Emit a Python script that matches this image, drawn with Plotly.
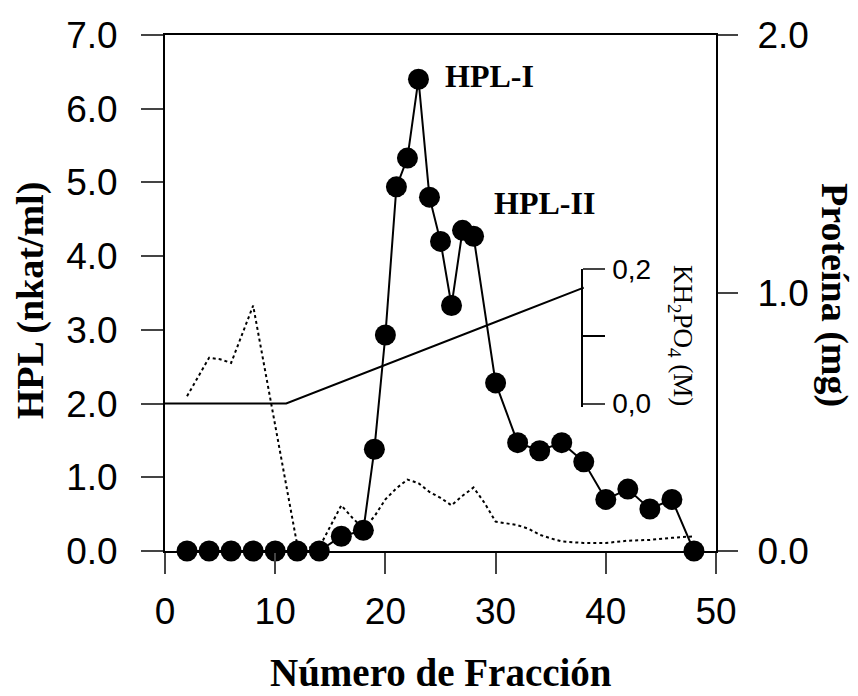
import plotly.graph_objects as go

# HPL activity (nkat/ml) vs fraction number
hpl_x = [2, 4, 6, 8, 10, 12, 14, 16, 18, 19, 20, 21, 22, 23, 24, 25, 26, 27, 28,
         30, 32, 34, 36, 38, 40, 42, 44, 46, 48]
hpl_y = [0, 0, 0, 0, 0, 0, 0, 0.20, 0.28, 1.38, 2.93, 4.94, 5.33, 6.40, 4.80, 4.20,
         3.33, 4.35, 4.27, 2.28, 1.47, 1.36, 1.47, 1.21, 0.70, 0.84, 0.57, 0.70, 0.0]

# Protein (mg), dotted trace
prot_x = [2, 4, 5, 6, 8, 10, 12, 13, 14, 16, 17, 18, 19, 20, 21, 22, 23, 24, 25,
          26, 27, 28, 29, 30, 31, 32, 33, 34, 35, 36, 38, 40, 42, 44, 46, 48]
prot_y = [0.600, 0.749, 0.743, 0.729, 0.951, 0.491, 0.023, 0.014, 0.014, 0.177,
          0.129, 0.086, 0.134, 0.200, 0.243, 0.277, 0.263, 0.229, 0.206, 0.177,
          0.214, 0.246, 0.186, 0.114, 0.106, 0.100, 0.086, 0.063, 0.049, 0.037,
          0.031, 0.031, 0.040, 0.043, 0.051, 0.057]

# KH2PO4 gradient (M)
grad_x = [0, 11, 38]
grad_y = [0.0, 0.0, 0.172]

x_ticks = [0, 10, 20, 30, 40, 50]
hpl_ticks = [0, 1, 2, 3, 4, 5, 6, 7]
prot_ticks = [0, 1, 2]
kh_ticks = [0, 0.2]
kh_ticktext = ["0,0", "0,2"]

SANS = "Liberation Sans, Arial, sans-serif"
SERIF = "Liberation Serif, Times New Roman, serif"

fig = go.Figure()

fig.add_trace(go.Scatter(
    x=prot_x, y=prot_y, yaxis="y2", mode="lines",
    line=dict(color="black", width=2, dash="dot"), showlegend=False))

fig.add_trace(go.Scatter(
    x=grad_x, y=grad_y, yaxis="y3", mode="lines",
    line=dict(color="black", width=2), showlegend=False))

fig.add_trace(go.Scatter(
    x=hpl_x, y=hpl_y, mode="lines+markers", cliponaxis=False,
    line=dict(color="black", width=2),
    marker=dict(color="black", size=21), showlegend=False))

fig.update_layout(
    width=858, height=696,
    margin=dict(l=165, r=142, t=35, b=145),
    paper_bgcolor="white", plot_bgcolor="rgba(0,0,0,0)",
    font=dict(family=SANS, color="black"),
    xaxis=dict(range=[0, 50], tickvals=x_ticks, ticks="outside", ticklen=21,
               tickwidth=2, showline=True, linewidth=2, linecolor="black",
               mirror=True, showgrid=False, zeroline=False,
               tickfont=dict(family=SANS, size=37), ticklabelstandoff=6),
    yaxis=dict(range=[0, 7], tickvals=hpl_ticks, tickformat=".1f",
               ticks="outside", ticklen=22, tickwidth=2, showline=True,
               linewidth=2, linecolor="black", showgrid=False, zeroline=False,
               tickfont=dict(family=SANS, size=37), ticklabelstandoff=16),
    yaxis2=dict(range=[0, 2], tickvals=prot_ticks, tickformat=".1f",
                overlaying="y", side="right", ticks="outside", ticklen=20,
                tickwidth=2, showline=True, linewidth=2, linecolor="black",
                showgrid=False, zeroline=False,
                tickfont=dict(family=SANS, size=37), ticklabelstandoff=12),
    yaxis3=dict(range=[-0.005, 0.2], domain=[0.2792, 0.5471], anchor="free",
                position=0.756, side="right", tickvals=kh_ticks,
                ticktext=kh_ticktext, ticks="outside", ticklen=22, tickwidth=2,
                minor=dict(tickvals=[0.1], ticks="outside", ticklen=22,
                           tickwidth=2, tickcolor="black", showgrid=False),
                showline=True, linewidth=2, linecolor="black", showgrid=False,
                zeroline=False, tickfont=dict(family=SANS, size=28),
                ticklabelstandoff=2),
)

annos = [
    dict(text="<b>HPL (nkat/ml)</b>", x=-0.245, y=0.486, textangle=-90,
         font=dict(family=SERIF, size=38)),
    dict(text="<b>Número de Fracción</b>", x=0.501, y=-0.2345,
         font=dict(family=SERIF, size=39)),
    dict(text="<b>Proteína (mg)</b>", x=1.216, y=0.496, textangle=90,
         font=dict(family=SERIF, size=38)),
    dict(text="KH<sub>2</sub>PO<sub>4</sub> (M)", x=0.9365, y=0.4186,
         textangle=90, font=dict(family=SERIF, size=27)),
]
for a in annos:
    fig.add_annotation(xref="paper", yref="paper", showarrow=False,
                       xanchor="center", yanchor="middle", **a)

fig.add_annotation(text="<b>HPL-I</b>", x=25.2, y=6.44, xref="x", yref="y",
                   showarrow=False, xanchor="left", yanchor="middle",
                   font=dict(family=SERIF, size=32))
fig.add_annotation(text="<b>HPL-II</b>", x=29.7, y=4.72, xref="x", yref="y",
                   showarrow=False, xanchor="left", yanchor="middle",
                   font=dict(family=SERIF, size=32))

fig.write_html("out.html")
